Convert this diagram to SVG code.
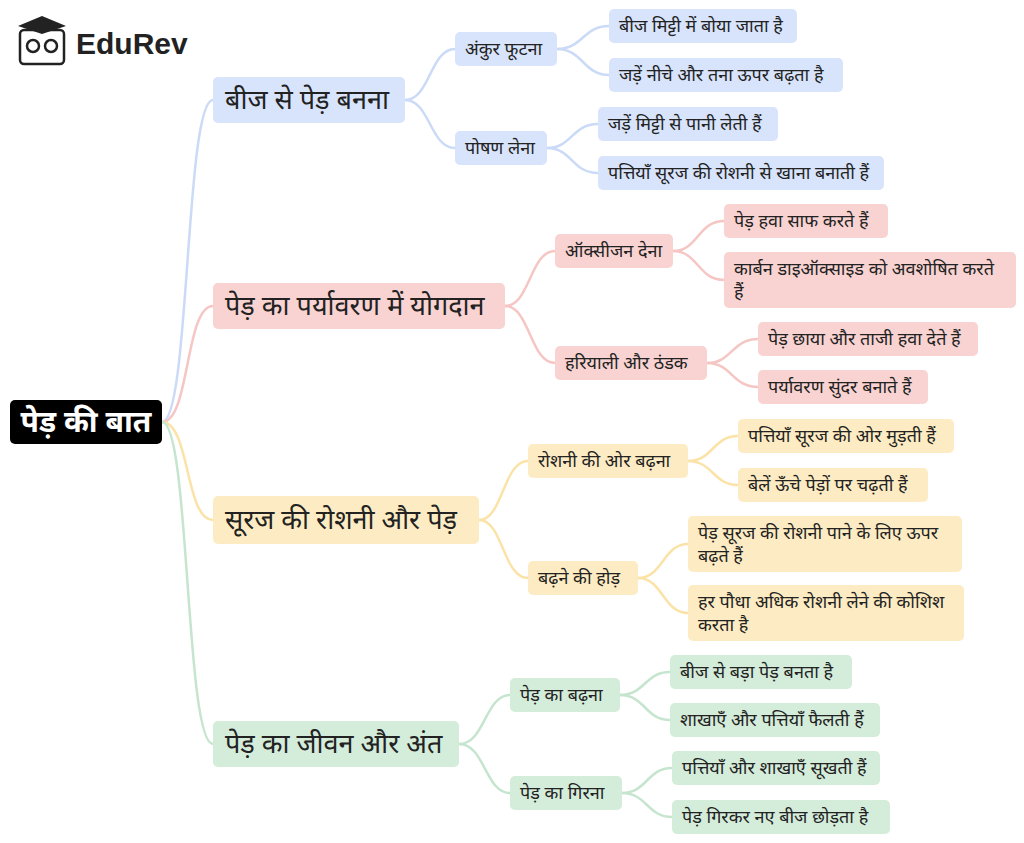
<svg xmlns="http://www.w3.org/2000/svg" width="1024" height="843" viewBox="0 0 1024 843">
<style>
text{font-family:"Noto Sans","Noto Sans Devanagari","Lohit Devanagari",sans-serif;fill:#222}
.l1{font-size:27px}.l2{font-size:18px}.l3{font-size:18px}
.b{fill:#d8e4fb}.r{fill:#f8d3d1}.y{fill:#fdecc3}.g{fill:#d4ecda}
.cb{stroke:#cbdaf7}.cr{stroke:#f5c6c3}.cy{stroke:#fbe3a8}.cg{stroke:#c6e5ce}
#connectors path{fill:none;stroke-width:2.5}
</style>
<rect width="1024" height="843" fill="#fff"/>
<g id="logo">
<rect x="20" y="30" width="44" height="34" rx="4" fill="#fff" stroke="#222" stroke-width="2.5"/>
<path d="M18 26 L42 16 L66 26 L42 34 Z" fill="#222"/>
<circle cx="33" cy="46" r="6" fill="none" stroke="#222" stroke-width="2.5"/>
<circle cx="51" cy="46" r="6" fill="none" stroke="#222" stroke-width="2.5"/>
<text x="76" y="54" font-size="30" font-weight="bold" style="font-family:'Liberation Sans',sans-serif">EduRev</text>
</g>
<g id="connectors">
<path class="cb" d="M162 422 C190 422 185 100 213 100"/>
<path class="cr" d="M162 422 C190 422 185 306 213 306"/>
<path class="cy" d="M162 422 C190 422 185 520 213 520"/>
<path class="cg" d="M162 422 C190 422 185 744 213 744"/>
<path class="cb" d="M405 100 C430 100 430 49 455 49"/>
<path class="cb" d="M405 100 C430 100 430 148 455 148"/>
<path class="cb" d="M557 49 C583 49 583 26 609 26"/>
<path class="cb" d="M557 49 C583 49 583 75 609 75"/>
<path class="cb" d="M547 148 C572 148 572 124 598 124"/>
<path class="cb" d="M547 148 C572 148 572 173 598 173"/>
<path class="cr" d="M505 306 C530 306 530 251 555 251"/>
<path class="cr" d="M505 306 C530 306 530 363 555 363"/>
<path class="cr" d="M673 251 C698 251 698 221 724 221"/>
<path class="cr" d="M673 251 C698 251 698 280 724 280"/>
<path class="cr" d="M707 363 C732 363 732 339 758 339"/>
<path class="cr" d="M707 363 C732 363 732 387 758 387"/>
<path class="cy" d="M479 520 C503 520 503 461 528 461"/>
<path class="cy" d="M479 520 C503 520 503 578 528 578"/>
<path class="cy" d="M688 461 C713 461 713 436 738 436"/>
<path class="cy" d="M688 461 C713 461 713 485 738 485"/>
<path class="cy" d="M638 578 C663 578 663 544 688 544"/>
<path class="cy" d="M638 578 C663 578 663 613 688 613"/>
<path class="cg" d="M459 744 C485 744 485 695 510 695"/>
<path class="cg" d="M459 744 C485 744 485 793 510 793"/>
<path class="cg" d="M620 695 C645 695 645 672 670 672"/>
<path class="cg" d="M620 695 C645 695 645 720 670 720"/>
<path class="cg" d="M622 793 C647 793 647 768 672 768"/>
<path class="cg" d="M622 793 C647 793 647 817 672 817"/>
</g>
<g id="root"><rect x="10" y="400" width="152" height="44" rx="5" fill="#000"/><text x="86" y="432" font-size="30" font-weight="bold" text-anchor="middle" style="fill:#fff">पेड़ की बात</text></g>
<g id="n1"><rect class="b" x="213" y="77" width="192" height="46" rx="5"/><text class="l1" x="225" y="109">बीज से पेड़ बनना</text></g>
<g id="n2"><rect class="r" x="213" y="283" width="292" height="46" rx="5"/><text class="l1" x="225" y="315">पेड़ का पर्यावरण में योगदान</text></g>
<g id="n3"><rect class="y" x="213" y="496" width="266" height="48" rx="5"/><text class="l1" x="225" y="529">सूरज की रोशनी और पेड़</text></g>
<g id="n4"><rect class="g" x="213" y="721" width="246" height="46" rx="5"/><text class="l1" x="225" y="753">पेड़ का जीवन और अंत</text></g>
<g id="n11"><rect class="b" x="455" y="32" width="102" height="34" rx="5"/><text class="l2" x="465" y="55">अंकुर फूटना</text></g>
<g id="n12"><rect class="b" x="455" y="131" width="92" height="34" rx="5"/><text class="l2" x="465" y="154">पोषण लेना</text></g>
<g id="n21"><rect class="r" x="555" y="234" width="118" height="34" rx="5"/><text class="l2" x="565" y="257">ऑक्सीजन देना</text></g>
<g id="n22"><rect class="r" x="555" y="346" width="152" height="34" rx="5"/><text class="l2" x="565" y="369">हरियाली और ठंडक</text></g>
<g id="n31"><rect class="y" x="528" y="444" width="160" height="34" rx="5"/><text class="l2" x="538" y="467">रोशनी की ओर बढ़ना</text></g>
<g id="n32"><rect class="y" x="528" y="561" width="110" height="34" rx="5"/><text class="l2" x="538" y="584">बढ़ने की होड़</text></g>
<g id="n41"><rect class="g" x="510" y="678" width="110" height="34" rx="5"/><text class="l2" x="520" y="701">पेड़ का बढ़ना</text></g>
<g id="n42"><rect class="g" x="510" y="776" width="112" height="34" rx="5"/><text class="l2" x="520" y="799">पेड़ का गिरना</text></g>
<g id="n111"><rect class="b" x="609" y="9" width="188" height="34" rx="5"/><text class="l3" x="619" y="32">बीज मिट्टी में बोया जाता है</text></g>
<g id="n112"><rect class="b" x="609" y="58" width="234" height="34" rx="5"/><text class="l3" x="619" y="81">जड़ें नीचे और तना ऊपर बढ़ता है</text></g>
<g id="n121"><rect class="b" x="598" y="107" width="180" height="34" rx="5"/><text class="l3" x="608" y="130">जड़ें मिट्टी से पानी लेती हैं</text></g>
<g id="n122"><rect class="b" x="598" y="156" width="286" height="34" rx="5"/><text class="l3" x="608" y="179">पत्तियाँ सूरज की रोशनी से खाना बनाती हैं</text></g>
<g id="n211"><rect class="r" x="724" y="204" width="164" height="34" rx="5"/><text class="l3" x="734" y="227">पेड़ हवा साफ करते हैं</text></g>
<g id="n212"><rect class="r" x="724" y="252" width="292" height="56" rx="5"/><text class="l3" x="734" y="275">कार्बन डाइऑक्साइड को अवशोषित करते</text><text class="l3" x="734" y="298">हैं</text></g>
<g id="n221"><rect class="r" x="758" y="322" width="220" height="34" rx="5"/><text class="l3" x="768" y="345">पेड़ छाया और ताजी हवा देते हैं</text></g>
<g id="n222"><rect class="r" x="758" y="370" width="170" height="34" rx="5"/><text class="l3" x="768" y="393">पर्यावरण सुंदर बनाते हैं</text></g>
<g id="n311"><rect class="y" x="738" y="419" width="216" height="34" rx="5"/><text class="l3" x="748" y="442">पत्तियाँ सूरज की ओर मुड़ती हैं</text></g>
<g id="n312"><rect class="y" x="738" y="468" width="190" height="34" rx="5"/><text class="l3" x="748" y="491">बेलें ऊँचे पेड़ों पर चढ़ती हैं</text></g>
<g id="n321"><rect class="y" x="688" y="516" width="274" height="56" rx="5"/><text class="l3" x="698" y="539">पेड़ सूरज की रोशनी पाने के लिए ऊपर</text><text class="l3" x="698" y="562">बढ़ते हैं</text></g>
<g id="n322"><rect class="y" x="688" y="585" width="276" height="56" rx="5"/><text class="l3" x="698" y="608">हर पौधा अधिक रोशनी लेने की कोशिश</text><text class="l3" x="698" y="631">करता है</text></g>
<g id="n411"><rect class="g" x="670" y="655" width="182" height="34" rx="5"/><text class="l3" x="680" y="678">बीज से बड़ा पेड़ बनता है</text></g>
<g id="n412"><rect class="g" x="670" y="703" width="210" height="34" rx="5"/><text class="l3" x="680" y="726">शाखाएँ और पत्तियाँ फैलती हैं</text></g>
<g id="n421"><rect class="g" x="672" y="751" width="208" height="34" rx="5"/><text class="l3" x="682" y="774">पत्तियाँ और शाखाएँ सूखती हैं</text></g>
<g id="n422"><rect class="g" x="672" y="800" width="218" height="34" rx="5"/><text class="l3" x="682" y="823">पेड़ गिरकर नए बीज छोड़ता है</text></g>
</svg>
